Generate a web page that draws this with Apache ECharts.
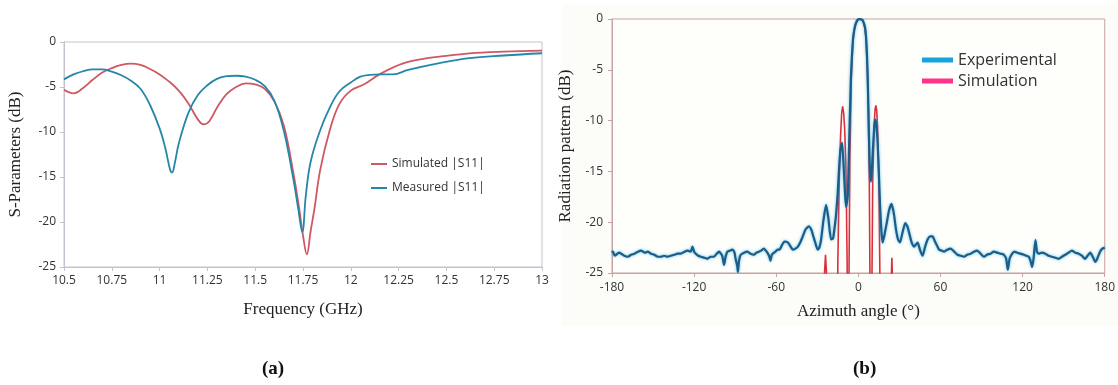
<!DOCTYPE html>
<html>
<head>
<meta charset="utf-8">
<script src="https://cdn.jsdelivr.net/npm/echarts@6/dist/echarts.min.js"></script>
<style>
  html, body { margin: 0; padding: 0; background: #ffffff; }
  #chart { width: 1118px; height: 385px; }
</style>
</head>
<body>
<div id="chart"></div>
<script>
// (a) S-parameters vs frequency
const freqTicks = [10.5, 10.75, 11, 11.25, 11.5, 11.75, 12, 12.25, 12.5, 12.75, 13];
const simulatedS11 = [
  [10.5, -5.3], [10.55, -5.7], [10.6, -5.1], [10.65, -4.2], [10.7, -3.4], [10.75, -2.9],
  [10.8, -2.55], [10.85, -2.4], [10.9, -2.55], [10.95, -3.0], [11.0, -3.6], [11.05, -4.4],
  [11.1, -5.4], [11.15, -6.8], [11.2, -8.6], [11.23, -9.15], [11.26, -8.8], [11.3, -7.3],
  [11.35, -5.8], [11.4, -5.0], [11.45, -4.6], [11.5, -4.7], [11.55, -5.2], [11.6, -6.6],
  [11.65, -9.3], [11.7, -14.6], [11.73, -18.5], [11.75, -21.5], [11.77, -23.6], [11.79, -21.0],
  [11.81, -18.5], [11.84, -14.2], [11.89, -9.8], [11.94, -6.9], [12.0, -5.4], [12.07, -4.7],
  [12.15, -3.6], [12.27, -2.4], [12.4, -1.8], [12.5, -1.55], [12.62, -1.26], [12.8, -1.07],
  [13.0, -0.95]
];
const measuredS11 = [
  [10.5, -4.15], [10.55, -3.6], [10.6, -3.25], [10.65, -3.05], [10.7, -3.05], [10.75, -3.3],
  [10.8, -3.7], [10.85, -4.3], [10.9, -5.2], [10.95, -7.0], [11.0, -9.6], [11.03, -11.8],
  [11.055, -14.2], [11.065, -14.5], [11.08, -13.4], [11.1, -11.3], [11.15, -7.9], [11.2, -5.9],
  [11.25, -4.8], [11.3, -4.1], [11.35, -3.8], [11.4, -3.75], [11.45, -3.85], [11.5, -4.2],
  [11.55, -4.9], [11.6, -6.5], [11.65, -9.9], [11.7, -15.3], [11.725, -18.5], [11.746, -21.1],
  [11.765, -17.0], [11.79, -13.3], [11.84, -9.8], [11.89, -7.3], [11.94, -5.5], [12.0, -4.5],
  [12.05, -3.85], [12.1, -3.65], [12.15, -3.6], [12.22, -3.6], [12.3, -3.1], [12.45, -2.4],
  [12.62, -1.8], [12.8, -1.5], [13.0, -1.25]
];

// (b) radiation pattern vs azimuth angle
const angleTicks = [-180, -120, -60, 0, 60, 120, 180];
const experimental = [
  [-180, -23.0], [-179.3, -22.9], [-178, -23.3], [-176.9, -23.2], [-175, -23.0], [-173.2, -23.1],
  [-171, -23.3], [-168.4, -23.4], [-166, -23.2], [-163.6, -23.1], [-161, -22.9], [-158.7, -22.8],
  [-156, -23.0], [-153.9, -22.9], [-151.5, -23.1], [-149.1, -23.2], [-146.5, -23.4], [-144.2, -23.4],
  [-142, -23.3], [-139.4, -23.4], [-137, -23.3], [-134.5, -23.2], [-132, -23.1], [-129.7, -23.1],
  [-127, -22.9], [-124.8, -22.8], [-122.5, -22.9], [-121.2, -22.4], [-120, -22.9], [-118.8, -23.1],
  [-117, -23.3], [-115.1, -23.4], [-112.5, -23.5], [-110.3, -23.6], [-108, -23.4], [-105.4, -23.4],
  [-103.5, -23.1], [-101.8, -22.9], [-99.5, -23.3], [-98.1, -24.2], [-97, -23.4], [-95.7, -22.9],
  [-94, -22.8], [-92.1, -22.7], [-90.5, -23.0], [-89.7, -23.6], [-88.5, -24.3], [-88, -24.9],
  [-87.2, -23.8], [-86, -23.2], [-83.5, -23.0], [-81.2, -22.9], [-78.8, -23.1], [-76.3, -23.2],
  [-74.5, -23.0], [-72.7, -22.9], [-71, -22.8], [-69.1, -22.6], [-66.5, -23.0], [-65, -23.4],
  [-64.2, -23.8], [-63.2, -23.2], [-60.6, -22.9], [-59, -22.7], [-57.6, -22.7], [-56, -22.3],
  [-54, -21.9], [-51.5, -22.0], [-49.5, -22.4], [-47.9, -22.7], [-46, -22.6], [-44.2, -22.4],
  [-42.5, -22.0], [-40.6, -21.4], [-38.5, -20.7], [-36.2, -20.4], [-34.5, -20.7], [-33.3, -21.2],
  [-31.5, -22.0], [-29.7, -22.7], [-28.5, -22.5], [-27.2, -21.7], [-25.5, -19.8], [-23.6, -18.3],
  [-22, -19.5], [-19.9, -21.7], [-18.5, -21.6], [-17.5, -20.7], [-16.3, -19.3], [-15.1, -17.2],
  [-14, -14.5], [-13.1, -12.9], [-11.9, -12.2], [-10.7, -14.6], [-9.8, -17.0], [-9, -18.5],
  [-7.8, -17.5], [-7.2, -15], [-6.6, -11.5], [-6, -8.5], [-5.4, -5.6], [-4.5, -3.2],
  [-3.7, -1.7], [-2.7, -0.9], [-1.7, -0.4], [-0.5, -0.1], [0.7, 0.0], [2, -0.05],
  [3.1, -0.1], [4.2, -0.5], [5.1, -1.0], [6, -2.6], [6.8, -5.6], [7.4, -9.2],
  [8, -13.0], [8.6, -15.2], [9.2, -16.0], [10, -14.5], [10.9, -12.2], [11.7, -10.5],
  [12.4, -9.9], [13.2, -10.5], [14.1, -12.2], [15, -15.2], [15.8, -18.2], [16.8, -20.8],
  [17.7, -22.0], [19, -21.3], [20.7, -20.1], [22.5, -18.8], [24.3, -18.2], [26, -19.2],
  [27.5, -20.7], [29, -21.7], [30.4, -22.0], [32.3, -21.0], [34.3, -20.1], [35.8, -20.4],
  [37.2, -21.1], [39, -22.0], [40.8, -22.4], [42, -22.2], [43.3, -22.0], [45, -22.7],
  [46.9, -23.3], [48.8, -22.4], [50.6, -21.7], [52.4, -21.4], [54.2, -21.4], [56, -21.9],
  [57.8, -22.4], [59, -22.7], [61, -22.8], [62.7, -22.9], [65, -22.7], [67.5, -22.6],
  [70, -22.9], [72.4, -23.2], [74.8, -23.3], [77.2, -23.4], [79.5, -23.2], [82.1, -23.1],
  [84.5, -22.9], [86.9, -22.8], [89.3, -23.1], [91.8, -23.4], [94, -23.2], [96.6, -23.1],
  [99, -22.9], [101.5, -23.0], [104, -23.1], [106.3, -23.2], [108, -23.6], [109.2, -24.7],
  [110.5, -23.6], [112.4, -23.1], [114, -22.9], [116, -23.0], [118.5, -23.1], [120.9, -23.2],
  [122.7, -23.3], [124.5, -23.4], [125.8, -23.8], [126.9, -24.4], [128, -23.6], [129.4, -21.75],
  [130.5, -22.9], [131.8, -23.1], [134, -23.0], [136.6, -23.1], [139, -23.3], [141.5, -23.4],
  [143.9, -23.5], [146.3, -23.6], [148.7, -23.4], [151.2, -23.2], [153.6, -23.0], [156, -22.8],
  [158.5, -23.0], [160.9, -23.1], [163.3, -23.3], [165.7, -23.6], [167.5, -23.3], [169.4, -23.0],
  [171.6, -23.5], [173, -23.9], [174.2, -23.7], [176.6, -22.9], [178.3, -22.6], [180, -22.5]
];
// simulated pattern dips far below -25 dB; the axis clips it
const simulation = [
  [-180, -40], [-27, -40], [-25.5, -27], [-24, -23.2], [-22.5, -27], [-21, -40],
  [-16, -40], [-15, -24], [-14, -16], [-13, -11.5], [-12.2, -9.3], [-11.5, -8.6],
  [-10.7, -9.3], [-10, -10.8], [-9, -15], [-8.2, -24], [-7.6, -40], [-7, -28],
  [-6.2, -14], [-5.2, -6], [-4, -2.2], [-2.5, -0.6], [-1, -0.1], [1, 0],
  [3, -0.1], [4.5, -0.6], [5.5, -1.8], [6.5, -4.5], [7.3, -9], [8, -16],
  [8.5, -26], [9, -40], [9.8, -28], [10.5, -16], [11.5, -10.5], [12.2, -8.9],
  [12.8, -8.5], [13.4, -9.0], [14, -10.5], [15, -16], [15.8, -26], [16.3, -40],
  [23, -40], [23.8, -27], [24.5, -23.5], [25.2, -27], [26, -40], [180, -40]
];
const dbTicks = [0, -5, -10, -15, -20, -25];

const sans = '"Open Sans", "Noto Sans", sans-serif';
const serif = '"Liberation Serif", "DejaVu Serif", serif';

const chart = echarts.init(document.getElementById('chart'), null, { renderer: 'canvas' });

const leftAxisColor = '#c3c3cf';
const rightAxisColor = '#c9a3a3';

const option = {
  animation: false,
  backgroundColor: '#ffffff',
  graphic: [
    {
      type: 'rect', z: -10, silent: true,
      shape: { x: 562, y: 4, width: 556, height: 322 },
      style: { fill: '#fcfcf8' }
    },
    {
      type: 'text', left: 262, top: 360,
      style: { text: '(a)', font: 'bold 19px ' + serif, fill: '#111' }
    },
    {
      type: 'text', left: 853, top: 360,
      style: { text: '(b)', font: 'bold 19px ' + serif, fill: '#111' }
    }
  ],
  grid: [
    { left: 64, top: 42, width: 478, height: 225, show: true, borderColor: leftAxisColor, borderWidth: 1, backgroundColor: 'transparent' },
    { left: 612, top: 19, width: 494, height: 254, show: true, borderColor: rightAxisColor, borderWidth: 1, backgroundColor: '#fefefb' }
  ],
  legend: [
    {
      orient: 'vertical', left: 366, top: 153, itemGap: 12,
      itemWidth: 16, itemHeight: 2, icon: 'rect',
      textStyle: { fontFamily: sans, fontSize: 12, color: '#333' },
      data: ['Simulated |S11|', 'Measured |S11|']
    },
    {
      orient: 'vertical', left: 917, top: 47, itemGap: 5,
      itemWidth: 31, itemHeight: 5, icon: 'rect',
      textStyle: { fontFamily: sans, fontSize: 16, color: '#333' },
      data: [
        { name: 'Experimental', itemStyle: { color: '#19a3dd' } },
        { name: 'Simulation', itemStyle: { color: '#ff3387' } }
      ]
    }
  ],
  xAxis: [
    {
      gridIndex: 0, type: 'value', min: 10.5, max: 13, interval: 0.25,
      axisLine: { onZero: false, lineStyle: { color: leftAxisColor } },
      axisTick: { show: true, length: 4, lineStyle: { color: leftAxisColor } },
      axisLabel: { color: '#333', fontFamily: sans, fontSize: 12, margin: 8 },
      splitLine: { show: false },
      name: 'Frequency (GHz)', nameLocation: 'middle', nameGap: 34,
      nameTextStyle: { fontFamily: serif, fontSize: 17, color: '#222' }
    },
    {
      gridIndex: 1, type: 'value', min: -180, max: 180, interval: 60,
      axisLine: { onZero: false, lineStyle: { color: rightAxisColor } },
      axisTick: { show: true, length: 4, lineStyle: { color: rightAxisColor } },
      axisLabel: { color: '#333', fontFamily: sans, fontSize: 12, margin: 9 },
      splitLine: { show: false },
      name: 'Azimuth angle (\u00b0)', nameLocation: 'middle', nameGap: 30,
      nameTextStyle: { fontFamily: serif, fontSize: 17, color: '#222' }
    }
  ],
  yAxis: [
    {
      gridIndex: 0, type: 'value', min: -25, max: 0, interval: 5,
      axisLine: { show: true, onZero: false, lineStyle: { color: leftAxisColor } },
      axisTick: { show: true, length: 4, lineStyle: { color: leftAxisColor } },
      axisLabel: { color: '#333', fontFamily: sans, fontSize: 12, margin: 8 },
      splitLine: { show: false },
      name: 'S-Parameters (dB)', nameLocation: 'middle', nameGap: 40,
      nameTextStyle: { fontFamily: serif, fontSize: 17, color: '#222' }
    },
    {
      gridIndex: 1, type: 'value', min: -25, max: 0, interval: 5,
      axisLine: { show: true, onZero: false, lineStyle: { color: rightAxisColor } },
      axisTick: { show: true, length: 4, lineStyle: { color: rightAxisColor } },
      axisLabel: { color: '#333', fontFamily: sans, fontSize: 12, margin: 9 },
      splitLine: { show: false },
      name: 'Radiation pattern (dB)', nameLocation: 'middle', nameGap: 38,
      nameTextStyle: { fontFamily: serif, fontSize: 17, color: '#222' }
    }
  ],
  series: [
    {
      name: 'Simulated |S11|', type: 'line', xAxisIndex: 0, yAxisIndex: 0,
      data: simulatedS11, smooth: 0.4, showSymbol: false,
      lineStyle: { color: '#cf5862', width: 1.8 }, itemStyle: { color: '#cf5862' }
    },
    {
      name: 'Measured |S11|', type: 'line', xAxisIndex: 0, yAxisIndex: 0,
      data: measuredS11, smooth: 0.4, showSymbol: false,
      lineStyle: { color: '#2486a8', width: 1.8 }, itemStyle: { color: '#2486a8' }
    },
    {
      name: 'Simulation', type: 'line', xAxisIndex: 1, yAxisIndex: 1,
      data: simulation, smooth: false, showSymbol: false, clip: true, z: 2,
      lineStyle: { color: '#d9303e', width: 1.6 }, itemStyle: { color: '#d9303e' }
    },
    {
      name: 'Experimental', type: 'line', xAxisIndex: 1, yAxisIndex: 1,
      data: experimental, smooth: 0.2, showSymbol: false, clip: true, z: 3,
      lineStyle: { color: '#1d5b88', width: 2.2, shadowColor: 'rgba(20,170,220,0.7)', shadowBlur: 3 },
      itemStyle: { color: '#1d5b88' }
    }
  ]
};

chart.setOption(option);
</script>
</body>
</html>
